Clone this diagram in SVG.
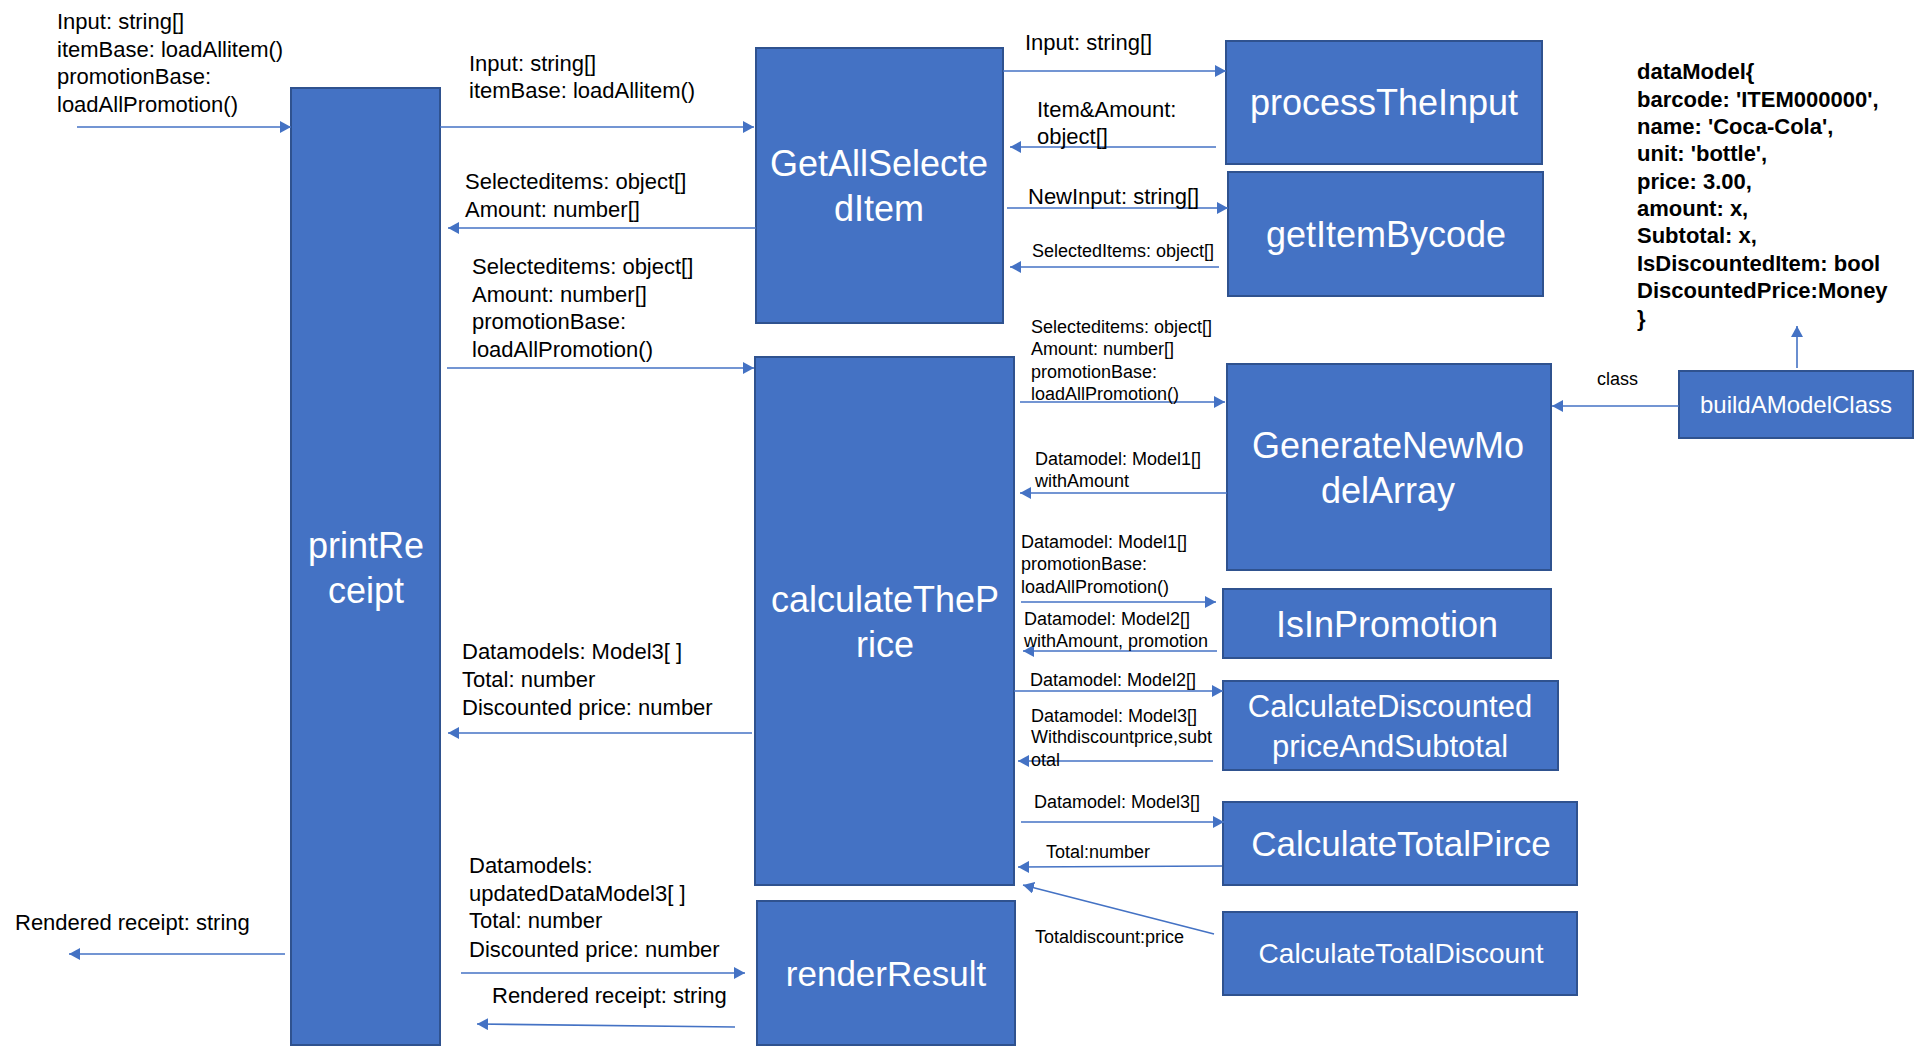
<svg xmlns="http://www.w3.org/2000/svg" width="1916" height="1046" viewBox="0 0 1916 1046">
<style>
.box{fill:#4472C4;stroke:#2F528F;stroke-width:2}
.nt{fill:#FFFFFF;font-family:"Liberation Sans","Noto Sans",Arial,sans-serif;text-anchor:middle}
.lb{fill:#000000;font-family:"Liberation Sans","Noto Sans",Arial,sans-serif;font-size:22px}
.sm{fill:#000000;font-family:"Liberation Sans","Noto Sans",Arial,sans-serif;font-size:18px}
.dm{fill:#000000;font-family:"Liberation Sans","Noto Sans",Arial,sans-serif;font-size:22px;font-weight:bold}
.cn line{stroke:#4472C4;stroke-width:1.6;fill:none;marker-end:url(#ah)}
</style>
<defs>
<marker id="ah" markerUnits="userSpaceOnUse" markerWidth="12" markerHeight="12" refX="11" refY="6" orient="auto">
<path d="M0,0 L11,6 L0,12 z" fill="#4472C4"/>
</marker>
</defs>
<rect width="1916" height="1046" fill="#FFFFFF"/>

<g id="printReceipt">
<rect class="box" x="291" y="88" width="149" height="957"/>
<text class="nt" x="366" y="558" font-size="36">printRe</text>
<text class="nt" x="366" y="603" font-size="36">ceipt</text>
</g>
<g id="getAllSelectedItem">
<rect class="box" x="756" y="48" width="247" height="275"/>
<text class="nt" x="879" y="176" font-size="36">GetAllSelecte</text>
<text class="nt" x="879" y="221" font-size="36">dItem</text>
</g>
<g id="calculateThePrice">
<rect class="box" x="755" y="357" width="259" height="528"/>
<text class="nt" x="885" y="612" font-size="36">calculateTheP</text>
<text class="nt" x="885" y="657" font-size="36">rice</text>
</g>
<g id="renderResult">
<rect class="box" x="757" y="901" width="258" height="144"/>
<text class="nt" x="886" y="986" font-size="35">renderResult</text>
</g>
<g id="processTheInput">
<rect class="box" x="1226" y="41" width="316" height="123"/>
<text class="nt" x="1384" y="115" font-size="36">processTheInput</text>
</g>
<g id="getItemBycode">
<rect class="box" x="1228" y="172" width="315" height="124"/>
<text class="nt" x="1386" y="247" font-size="36">getItemBycode</text>
</g>
<g id="generateNewModelArray">
<rect class="box" x="1227" y="364" width="324" height="206"/>
<text class="nt" x="1388" y="458" font-size="36">GenerateNewMo</text>
<text class="nt" x="1388" y="503" font-size="36">delArray</text>
</g>
<g id="isInPromotion">
<rect class="box" x="1223" y="589" width="328" height="69"/>
<text class="nt" x="1387" y="637" font-size="36">IsInPromotion</text>
</g>
<g id="calculateDiscountedPriceAndSubtotal">
<rect class="box" x="1223" y="681" width="335" height="89"/>
<text class="nt" x="1390" y="717" font-size="31">CalculateDiscounted</text>
<text class="nt" x="1390" y="757" font-size="31">priceAndSubtotal</text>
</g>
<g id="calculateTotalPirce">
<rect class="box" x="1223" y="802" width="354" height="83"/>
<text class="nt" x="1401" y="856" font-size="35">CalculateTotalPirce</text>
</g>
<g id="calculateTotalDiscount">
<rect class="box" x="1223" y="912" width="354" height="83"/>
<text class="nt" x="1401" y="963" font-size="28">CalculateTotalDiscount</text>
</g>
<g id="buildAModelClass">
<rect class="box" x="1679" y="371" width="234" height="67"/>
<text class="nt" x="1796" y="413" font-size="24">buildAModelClass</text>
</g>

<g id="dataModel">
<text class="dm" x="1637" y="79">dataModel{</text>
<text class="dm" x="1637" y="107">barcode: 'ITEM000000',</text>
<text class="dm" x="1637" y="134">name: 'Coca-Cola',</text>
<text class="dm" x="1637" y="161">unit: 'bottle',</text>
<text class="dm" x="1637" y="189">price: 3.00,</text>
<text class="dm" x="1637" y="216">amount: x,</text>
<text class="dm" x="1637" y="243">Subtotal: x,</text>
<text class="dm" x="1637" y="271">IsDiscountedItem: bool</text>
<text class="dm" x="1637" y="298">DiscountedPrice:Money</text>
<text class="dm" x="1637" y="326">}</text>
</g>

<g id="connectors" class="cn">
<line x1="77" y1="127" x2="291" y2="127"/>
<line x1="440" y1="127" x2="754" y2="127"/>
<line x1="756" y1="228" x2="448" y2="228"/>
<line x1="447" y1="368" x2="754" y2="368"/>
<line x1="752" y1="733" x2="448" y2="733"/>
<line x1="461" y1="973" x2="745" y2="973"/>
<line x1="735" y1="1027" x2="477" y2="1024"/>
<line x1="285" y1="954" x2="69" y2="954"/>
<line x1="1003" y1="71" x2="1226" y2="71"/>
<line x1="1216" y1="147" x2="1010" y2="147"/>
<line x1="1007" y1="208" x2="1228" y2="208"/>
<line x1="1219" y1="267" x2="1010" y2="267"/>
<line x1="1020" y1="402" x2="1225" y2="402"/>
<line x1="1227" y1="493" x2="1020" y2="493"/>
<line x1="1021" y1="602" x2="1216" y2="602"/>
<line x1="1217" y1="651" x2="1023" y2="651"/>
<line x1="1014" y1="691" x2="1223" y2="691"/>
<line x1="1213" y1="761" x2="1018" y2="761"/>
<line x1="1021" y1="822" x2="1224" y2="822"/>
<line x1="1222" y1="866" x2="1018" y2="867"/>
<line x1="1214" y1="934" x2="1023" y2="885"/>
<line x1="1679" y1="406" x2="1552" y2="406"/>
<line x1="1797" y1="368" x2="1797" y2="326"/>
</g>

<g id="labels">
<text class="lb" x="57" y="29">Input: string[]</text>
<text class="lb" x="57" y="57">itemBase: loadAllitem()</text>
<text class="lb" x="57" y="84">promotionBase:</text>
<text class="lb" x="57" y="112">loadAllPromotion()</text>
<text class="lb" x="469" y="71">Input: string[]</text>
<text class="lb" x="469" y="98">itemBase: loadAllitem()</text>
<text class="lb" x="465" y="189">Selecteditems: object[]</text>
<text class="lb" x="465" y="217">Amount: number[]</text>
<text class="lb" x="472" y="274">Selecteditems: object[]</text>
<text class="lb" x="472" y="302">Amount: number[]</text>
<text class="lb" x="472" y="329">promotionBase:</text>
<text class="lb" x="472" y="357">loadAllPromotion()</text>
<text class="lb" x="462" y="659">Datamodels: Model3[ ]</text>
<text class="lb" x="462" y="687">Total: number</text>
<text class="lb" x="462" y="715">Discounted price: number</text>
<text class="lb" x="469" y="873">Datamodels:</text>
<text class="lb" x="469" y="901">updatedDataModel3[ ]</text>
<text class="lb" x="469" y="928">Total: number</text>
<text class="lb" x="469" y="957">Discounted price: number</text>
<text class="lb" x="492" y="1003">Rendered receipt: string</text>
<text class="lb" x="15" y="930">Rendered receipt: string</text>
<text class="lb" x="1025" y="50">Input: string[]</text>
<text class="lb" x="1037" y="117">Item&amp;Amount:</text>
<text class="lb" x="1037" y="144">object[]</text>
<text class="lb" x="1028" y="204">NewInput: string[]</text>
<text class="sm" x="1032" y="257">SelectedItems: object[]</text>
<text class="sm" x="1031" y="333">Selecteditems: object[]</text>
<text class="sm" x="1031" y="355">Amount: number[]</text>
<text class="sm" x="1031" y="378">promotionBase:</text>
<text class="sm" x="1031" y="400">loadAllPromotion()</text>
<text class="sm" x="1035" y="465">Datamodel: Model1[]</text>
<text class="sm" x="1035" y="487">withAmount</text>
<text class="sm" x="1021" y="548">Datamodel: Model1[]</text>
<text class="sm" x="1021" y="570">promotionBase:</text>
<text class="sm" x="1021" y="593">loadAllPromotion()</text>
<text class="sm" x="1024" y="625">Datamodel: Model2[]</text>
<text class="sm" x="1024" y="647">withAmount, promotion</text>
<text class="sm" x="1030" y="686">Datamodel: Model2[]</text>
<text class="sm" x="1031" y="722">Datamodel: Model3[]</text>
<text class="sm" x="1031" y="743">Withdiscountprice,subt</text>
<text class="sm" x="1031" y="766">otal</text>
<text class="sm" x="1034" y="808">Datamodel: Model3[]</text>
<text class="sm" x="1046" y="858">Total:number</text>
<text class="sm" x="1035" y="943">Totaldiscount:price</text>
<text class="sm" x="1597" y="385">class</text>
</g>
</svg>
